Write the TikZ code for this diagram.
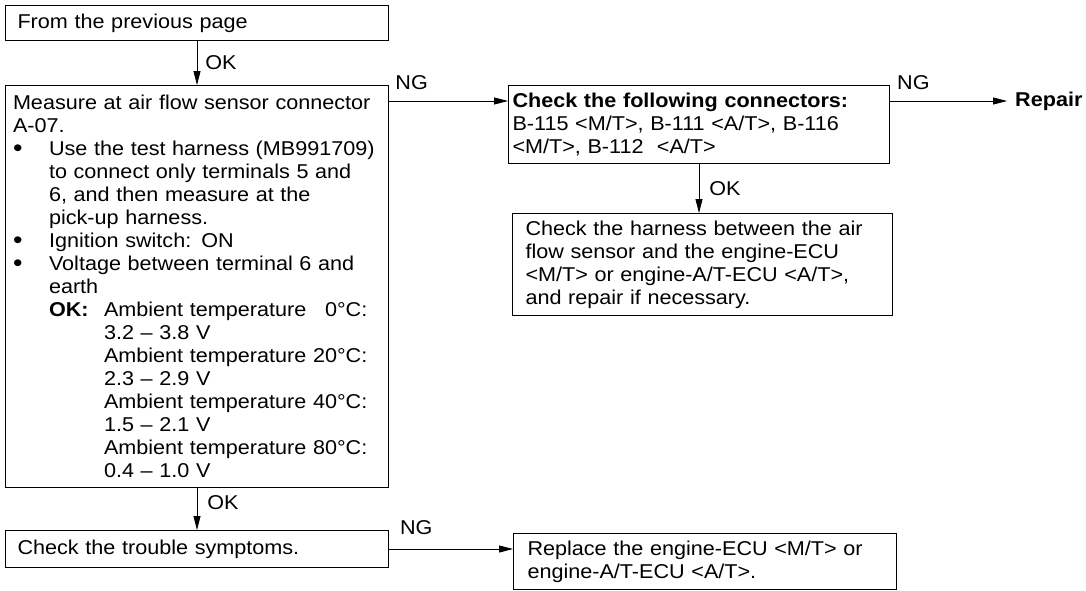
\documentclass[tikz,border=0pt]{standalone}
\usepackage{fontspec}
\setmainfont{Liberation Sans}[FakeStretch=1.08, WordSpace=1.25]
\usetikzlibrary{arrows.meta}
\newcommand{\blt}{\makebox[36pt][l]{\raisebox{-1pt}{\fontsize{25}{23}\selectfont\textbullet}}}
\newcommand{\ind}{\hspace*{36pt}}
\newcommand{\indd}{\hspace*{91pt}}

\begin{document}
\begin{tikzpicture}[x=1pt, y=-1pt,
            font=\fontsize{20}{23}\selectfont,
            box/.style={draw, line width=1pt, anchor=north west, inner xsep=12pt, inner ysep=0pt, align=left},
            arr/.style={-{Triangle[length=14pt,width=7pt]}, line width=0.8pt},
            lbl/.style={inner sep=3pt}]
            \useasboundingbox (0,0) rectangle (1086,590);
            \node[box, text width=359pt, minimum height=35pt] (prev) at (5,5) {From the previous page};
            \node[box, inner xsep=7.5pt, text width=368pt, minimum height=402pt] (measure) at (5,85) {%
                Measure at air flow sensor connector\\
                A-07.\\
                \blt Use the test harness (MB991709)\\
                \ind to connect only terminals 5 and\\
                \ind 6, and then measure at the\\
                \ind pick-up harness.\\
                \blt Ignition switch: ON\\
                \blt Voltage between terminal 6 and\\
                \ind earth\\
                \ind\makebox[55pt][l]{\textbf{OK:}}Ambient temperature \phantom{2}0°C:\\
                \indd 3.2 – 3.8 V\\
                \indd Ambient temperature 20°C:\\
                \indd 2.3 – 2.9 V\\
                \indd Ambient temperature 40°C:\\
                \indd 1.5 – 2.1 V\\
                \indd Ambient temperature 80°C:\\
                \indd 0.4 – 1.0 V};
            \node[box, text width=359pt, minimum height=37pt] (symptoms) at (5,530) {Check the trouble symptoms.};
            \node[box, inner xsep=4pt, text width=373pt, minimum height=78pt] (connectors) at (508,85) {%
                \textbf{Check the following connectors:}\\
                B-115 <M/T>, B-111 <A/T>, B-116\\
                <M/T>, B-112\ \ <A/T>};
            \node[box, inner xsep=13pt, text width=354pt, minimum height=102pt] (harness) at (512,213) {%
                Check the harness between the air\\
                flow sensor and the engine-ECU\\
                <M/T> or engine-A/T-ECU <A/T>,\\
                and repair if necessary.};
            \node[box, inner xsep=14pt, text width=355pt, minimum height=56pt] (replace) at (513,533) {%
                Replace the engine-ECU <M/T> or\\
                engine-A/T-ECU <A/T>.};
            \node[anchor=west, inner xsep=8pt] (repair) at (1007,101) {\textbf{Repair}};
            % connectors
            \draw[arr] (prev) -- node[lbl, right=5pt] {OK} (measure);
            \draw[arr] (measure) -- node[lbl, right=7pt, pos=0.35] {OK} (symptoms);
            \draw[arr] (connectors.south) -- node[lbl, right=7pt] {OK} (connectors.south |- harness.north);
            \draw[arr] ([yshift=-16pt]measure.north east) -- node[lbl, above=8pt, pos=0.19] {NG} ([yshift=-16pt]connectors.north west);
            \draw[arr] ([yshift=-16pt]connectors.north east) -- node[lbl, above=8pt, pos=0.2] {NG} (repair.west);
            \draw[arr] (symptoms.east) -- node[lbl, above=11pt, pos=0.22] {NG} (symptoms.east -| replace.west);
        \end{tikzpicture}
\end{document}
